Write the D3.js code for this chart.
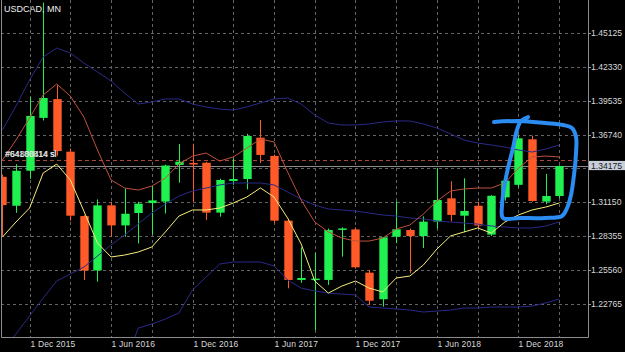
<!DOCTYPE html>
<html><head><meta charset="utf-8">
<script src="https://cdn.jsdelivr.net/npm/d3@7"></script>
<style>html,body{margin:0;padding:0;background:#000;}svg{display:block;}</style>
</head><body>
<script>
// ---------- data ----------
const categories = ["Oct 2015","Nov 2015","Dec 2015","Jan 2016","Feb 2016","Mar 2016","Apr 2016","May 2016","Jun 2016","Jul 2016","Aug 2016","Sep 2016","Oct 2016","Nov 2016","Dec 2016","Jan 2017","Feb 2017","Mar 2017","Apr 2017","May 2017","Jun 2017","Jul 2017","Aug 2017","Sep 2017","Oct 2017","Nov 2017","Dec 2017","Jan 2018","Feb 2018","Mar 2018","Apr 2018","May 2018","Jun 2018","Jul 2018","Aug 2018","Sep 2018","Oct 2018","Nov 2018","Dec 2018","Jan 2019","Feb 2019","Mar 2019"];
const opens  = [1.3326,1.3088,1.3376,1.3811,1.3966,1.3533,1.3003,1.2555,1.3091,1.2926,1.3028,1.3110,1.3122,1.3424,1.3440,1.3442,1.3031,1.3292,1.3308,1.3648,1.3498,1.2965,1.2477,1.2478,1.2477,1.2893,1.2893,1.2537,1.2318,1.2833,1.2888,1.2838,1.2957,1.3149,1.3006,1.3088,1.2850,1.3157,1.3260,1.3635,1.3122,1.3168];
const highs  = [1.3345,1.3430,1.3983,1.4760,1.4080,1.3560,1.3010,1.3140,1.3120,1.3231,1.3120,1.3250,1.3425,1.3596,1.3598,1.3450,1.3310,1.3478,1.3680,1.3794,1.3510,1.2980,1.2745,1.2700,1.2900,1.2910,1.2910,1.2560,1.2830,1.3125,1.2900,1.3000,1.3399,1.3290,1.3314,1.3120,1.3175,1.3320,1.3665,1.3665,1.3350,1.3420];
const lows   = [1.2840,1.3030,1.3310,1.3790,1.3500,1.2965,1.2477,1.2463,1.2830,1.2833,1.2777,1.2850,1.3024,1.3278,1.3120,1.2971,1.2998,1.3260,1.3223,1.3440,1.2945,1.2408,1.2454,1.2065,1.2436,1.2669,1.2570,1.2271,1.2257,1.2780,1.2532,1.2740,1.2900,1.2960,1.2870,1.2901,1.2838,1.3130,1.3240,1.3120,1.3100,1.3150];
const closes = [1.3093,1.3376,1.3827,1.3975,1.3538,1.3006,1.2555,1.3091,1.2926,1.3022,1.3105,1.3132,1.3419,1.3451,1.3435,1.3031,1.3300,1.3308,1.3662,1.3506,1.2965,1.2477,1.2493,1.2488,1.2888,1.2901,1.2581,1.2306,1.2828,1.2894,1.2838,1.2957,1.3135,1.3012,1.3045,1.2925,1.3170,1.3294,1.3643,1.3127,1.3168,1.3415];

const bbUpper  = [1.3711,1.3909,1.4123,1.4312,1.4386,1.4345,1.4263,1.4189,1.4115,1.4016,1.3925,1.3942,1.3967,1.3967,1.3925,1.3901,1.3884,1.3876,1.3901,1.3934,1.3967,1.3975,1.3925,1.3835,1.3769,1.3753,1.3753,1.3761,1.3777,1.3786,1.3786,1.3761,1.3728,1.3679,1.3629,1.3604,1.3588,1.3571,1.3547,1.3530,1.3555,1.3588];
const bbMiddle = [1.1884,1.2032,1.2180,1.2328,1.2468,1.2526,1.2583,1.2674,1.2765,1.2847,1.2937,1.3028,1.3102,1.3168,1.3209,1.3234,1.3259,1.3275,1.3275,1.3275,1.3259,1.3201,1.3143,1.3094,1.3061,1.3053,1.3044,1.3028,1.3012,1.3003,1.2987,1.2979,1.2962,1.2954,1.2946,1.2937,1.2921,1.2913,1.2905,1.2905,1.2921,1.2954];
const bbLower  = [1.0089,1.0171,1.0253,1.0336,1.0550,1.0690,1.0912,1.1159,1.1406,1.1777,1.2081,1.2114,1.2155,1.2205,1.2394,1.2501,1.2608,1.2625,1.2625,1.2625,1.2592,1.2476,1.2410,1.2386,1.2369,1.2361,1.2353,1.2254,1.2246,1.2238,1.2229,1.2213,1.2221,1.2229,1.2246,1.2246,1.2254,1.2254,1.2254,1.2262,1.2287,1.2320];
const maRed    = [1.3464,1.3629,1.3810,1.3999,1.4090,1.3991,1.3818,1.3547,1.3300,1.3234,1.3217,1.3250,1.3316,1.3431,1.3497,1.3522,1.3456,1.3489,1.3563,1.3637,1.3613,1.3366,1.3135,1.2954,1.2872,1.2822,1.2797,1.2797,1.2822,1.2896,1.2929,1.3020,1.3127,1.3209,1.3226,1.3234,1.3234,1.3275,1.3398,1.3489,1.3497,1.3489];
const maYellow = [1.2830,1.2954,1.3069,1.3357,1.3431,1.3300,1.3044,1.2781,1.2666,1.2682,1.2707,1.2748,1.2872,1.3003,1.3053,1.3053,1.3069,1.3110,1.3160,1.3234,1.3160,1.2987,1.2773,1.2468,1.2369,1.2427,1.2468,1.2410,1.2378,1.2493,1.2509,1.2600,1.2732,1.2839,1.2872,1.2905,1.2863,1.2954,1.3012,1.3053,1.3077,1.3110];

const yTicks = [1.45125,1.42330,1.39535,1.36740,1.33945,1.31150,1.28355,1.25560,1.22765];
const xTickMonths = ["Dec 2015","Jun 2016","Dec 2016","Jun 2017","Dec 2017","Jun 2018","Dec 2018"];
const gridStep = 3;
const currentPrice = 1.34175;
const slPrice = 1.3464;
const orderLabels = ["#64180814 sl","#64808414 sl"];
const title = "USDCAD, MN";
// hand-drawn highlight, in (category index, price)
const highlight = [[36.20,1.3777],[38.11,1.3786],[39.96,1.3769],[41.28,1.3753],[41.94,1.3728],[42.24,1.3654],[42.24,1.3530],[42.09,1.3341],[41.87,1.3176],[41.58,1.3069],[41.21,1.3003],[39.96,1.2987],[38.11,1.2987],[36.86,1.2987],[36.79,1.3094],[36.94,1.3234],[37.23,1.3398],[37.60,1.3563],[37.89,1.3711],[38.19,1.3786],[38.70,1.3818]];

// ---------- layout ----------
const W = 625, H = 352;
const plot = {left: 1, right: 588, top: 0, bottom: 337.5};
const x = d3.scaleLinear().domain([0, categories.length - 1]).range([2.4, 559.2]);
const y = d3.scaleLinear().domain([1.22765, 1.45125]).range([304.3, 32.7]);
const font = "'Liberation Sans', Arial, sans-serif";
const green = "#20f050", red = "#ff5a28";

const svg = d3.select("body").append("svg").attr("width", W).attr("height", H)
  .style("background", "#000");

svg.append("defs").append("clipPath").attr("id", "clip")
  .append("rect").attr("x", plot.left).attr("y", plot.top)
  .attr("width", plot.right - plot.left).attr("height", plot.bottom - plot.top);

const g = svg.append("g").attr("clip-path", "url(#clip)");

// grid
const gridIdx = d3.range(categories.indexOf(xTickMonths[0]), categories.length, gridStep);
g.selectAll(".vg").data(gridIdx).join("line")
  .attr("x1", d => Math.round(x(d)) + 0.5).attr("x2", d => Math.round(x(d)) + 0.5)
  .attr("y1", plot.top).attr("y2", plot.bottom)
  .attr("stroke", "#646464").attr("stroke-dasharray", "3,3");
g.selectAll(".hg").data(yTicks).join("line")
  .attr("x1", plot.left).attr("x2", plot.right)
  .attr("y1", d => Math.round(y(d)) + 0.5).attr("y2", d => Math.round(y(d)) + 0.5)
  .attr("stroke", "#646464").attr("stroke-dasharray", "3,3");

// order line & bid line
g.append("line").attr("x1", plot.left).attr("x2", plot.right)
  .attr("y1", Math.round(y(slPrice)) + 0.5).attr("y2", Math.round(y(slPrice)) + 0.5)
  .attr("stroke", "#a8483a").attr("stroke-dasharray", "4,3");
g.append("line").attr("x1", plot.left).attr("x2", plot.right)
  .attr("y1", Math.round(y(currentPrice)) + 0.5).attr("y2", Math.round(y(currentPrice)) + 0.5)
  .attr("stroke", "#8a8a8a");

// candles
const bw = 8.4;
const idx = d3.range(categories.length);
const col = i => closes[i] >= opens[i] ? green : red;
g.selectAll(".wick").data(idx).join("line")
  .attr("x1", i => Math.round(x(i)) + 0.5).attr("x2", i => Math.round(x(i)) + 0.5)
  .attr("y1", i => y(highs[i])).attr("y2", i => y(lows[i]))
  .attr("stroke", col).attr("stroke-width", 1);
g.selectAll(".body").data(idx).join("rect")
  .attr("x", i => Math.round(x(i)) + 0.5 - bw / 2)
  .attr("width", bw)
  .attr("y", i => y(Math.max(opens[i], closes[i])))
  .attr("height", i => Math.max(1.5, Math.abs(y(opens[i]) - y(closes[i]))))
  .attr("fill", col);

// indicator lines
const line = arr => d3.line().x((d, i) => x(i)).y(d => y(d))(arr);
[[bbUpper, "#2a2a88"], [bbMiddle, "#2a2a88"], [bbLower, "#2a2a88"], [maRed, "#c0503c"], [maYellow, "#f4ee7a"]]
  .forEach(([arr, c]) => g.append("path").attr("d", line(arr)).attr("fill", "none")
    .attr("stroke", c).attr("stroke-width", 1));

// order label text
orderLabels.forEach((t, k) => svg.append("text").attr("x", 5 + k * 0.6).attr("y", y(slPrice) - 3)
  .attr("fill", "#e6e6e6").attr("font-family", font).attr("font-size", 8.5).text(t));

// frame
svg.append("path").attr("d", `M${plot.left + 0.5},${plot.top}V${plot.bottom}H${plot.right + 0.5}V${plot.top}`)
  .attr("fill", "none").attr("stroke", "#8c8c8c");

// right axis
const yt = yTicks.filter(v => Math.abs(y(v) - y(currentPrice)) > 8);
svg.selectAll(".ytk").data(yt).join("line")
  .attr("x1", plot.right).attr("x2", plot.right + 3)
  .attr("y1", d => Math.round(y(d)) + 0.5).attr("y2", d => Math.round(y(d)) + 0.5)
  .attr("stroke", "#9a9a9a");
svg.selectAll(".ylab").data(yt).join("text")
  .attr("x", plot.right + 3).attr("y", d => y(d) + 3)
  .attr("fill", "#d8d8d8").attr("font-family", font).attr("font-size", 8.6)
  .text(d => d.toFixed(5));

// current price box
const py = y(currentPrice);
svg.append("rect").attr("x", plot.right + 1).attr("y", py - 4.8).attr("width", W - plot.right - 1).attr("height", 9.2)
  .attr("fill", "#c8cfda");
svg.append("text").attr("x", plot.right + 3).attr("y", py + 3)
  .attr("fill", "#1c1c1c").attr("font-family", font).attr("font-size", 8.6).text(currentPrice.toFixed(5));

// x axis labels
svg.selectAll(".xlab").data(xTickMonths).join("text")
  .attr("x", d => Math.round(x(categories.indexOf(d))) + 0.5)
  .attr("y", plot.bottom + 9.5)
  .attr("fill", "#d8d8d8").attr("font-family", font).attr("font-size", 8.5)
  .attr("letter-spacing", 0.15)
  .text(d => "1 " + d);

// title
svg.append("text").attr("x", 4).attr("y", 11.5).attr("fill", "#f0f0f0")
  .attr("font-family", font).attr("font-size", 9).text(title);

// hand-drawn highlight
svg.append("path")
  .attr("d", d3.line().x(d => x(d[0])).y(d => y(d[1])).curve(d3.curveCatmullRom)(highlight))
  .attr("fill", "none").attr("stroke", "#2b8cf2").attr("stroke-width", 4)
  .attr("stroke-linecap", "round").attr("stroke-linejoin", "round");
</script>
</body></html>
